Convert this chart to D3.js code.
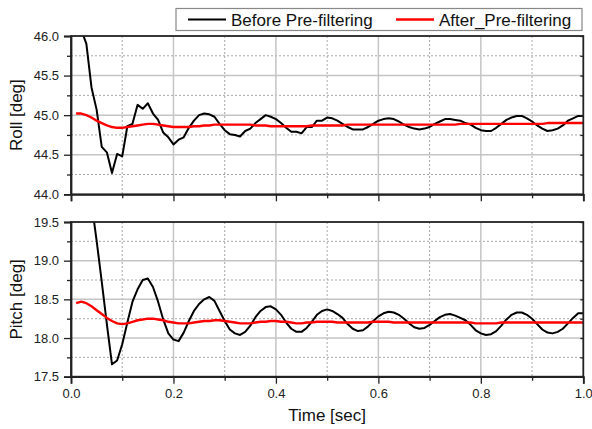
<!DOCTYPE html>
<html><head><meta charset="utf-8">
<script src="https://cdn.jsdelivr.net/npm/d3@7"></script>
<style>body{margin:0;background:#fff}svg{display:block}</style>
</head><body><svg id="c" width="592" height="429"></svg>
<script>
const seriesNames = ["Before Pre-filtering", "After_Pre-filtering"];
const seriesColors = ["#000000", "#ff0000"];
const panelLabels = ["Roll [deg]", "Pitch [deg]"];
const xLabel = "Time [sec]";
const xTicks = [0.0, 0.2, 0.4, 0.6, 0.8, 1.0];
const rollTicks = [44.0, 44.5, 45.0, 45.5, 46.0];
const pitchTicks = [17.5, 18.0, 18.5, 19.0, 19.5];
// sample times 0.01 .. 1.00
const time = d3.range(1, 101).map(i => i / 100);

const rollBefore = [46.40,46.08,45.90,45.35,45.07,44.60,44.53,44.27,44.51,44.48,
44.86,44.89,45.13,45.08,45.15,45.02,44.94,44.78,44.72,44.63,
44.69,44.72,44.84,44.93,45.00,45.02,45.01,44.98,44.89,44.81,
44.76,44.75,44.73,44.80,44.83,44.90,44.95,45.00,44.98,44.95,
44.90,44.84,44.79,44.79,44.77,44.85,44.85,44.93,44.93,44.97,
44.96,44.93,44.89,44.85,44.82,44.82,44.82,44.85,44.89,44.93,
44.95,44.96,44.95,44.92,44.88,44.85,44.83,44.82,44.83,44.85,
44.89,44.92,44.95,44.95,44.94,44.93,44.90,44.88,44.84,44.81,
44.80,44.80,44.84,44.89,44.94,44.97,44.99,44.99,44.96,44.92,
44.87,44.83,44.80,44.81,44.83,44.87,44.93,44.96,44.99,44.99];

const rollAfter = [45.02,45.02,45.00,44.97,44.93,44.90,44.87,44.85,44.84,44.84,
44.85,44.86,44.87,44.88,44.89,44.89,44.88,44.87,44.86,44.85,
44.85,44.85,44.85,44.86,44.86,44.87,44.87,44.88,44.88,44.88,
44.88,44.88,44.88,44.88,44.88,44.87,44.87,44.87,44.86,44.86,
44.86,44.86,44.86,44.86,44.86,44.86,44.87,44.87,44.87,44.87,
44.87,44.87,44.87,44.88,44.88,44.88,44.88,44.88,44.88,44.88,
44.88,44.88,44.88,44.88,44.88,44.88,44.88,44.88,44.88,44.88,
44.88,44.88,44.88,44.88,44.88,44.89,44.89,44.89,44.89,44.89,
44.89,44.89,44.89,44.89,44.89,44.89,44.89,44.89,44.89,44.89,
44.89,44.89,44.90,44.90,44.90,44.90,44.90,44.90,44.90,44.90];

const pitchBefore = [21.80,20.90,20.20,19.75,19.26,18.73,18.18,17.66,17.71,17.92,
18.20,18.47,18.63,18.75,18.77,18.66,18.47,18.24,18.06,17.98,
17.96,18.07,18.22,18.35,18.44,18.50,18.53,18.48,18.35,18.22,
18.11,18.06,18.04,18.08,18.16,18.27,18.35,18.40,18.41,18.37,
18.30,18.20,18.12,18.08,18.08,18.13,18.21,18.30,18.35,18.37,
18.35,18.31,18.26,18.18,18.12,18.09,18.10,18.15,18.22,18.28,
18.32,18.34,18.33,18.30,18.25,18.19,18.14,18.12,18.13,18.17,
18.22,18.27,18.30,18.31,18.29,18.26,18.23,18.17,18.10,18.06,
18.04,18.05,18.09,18.16,18.24,18.30,18.33,18.33,18.30,18.25,
18.18,18.11,18.07,18.06,18.08,18.12,18.19,18.26,18.32,18.32];

const pitchAfter = [18.45,18.47,18.45,18.41,18.36,18.31,18.26,18.22,18.19,18.18,
18.19,18.21,18.23,18.24,18.25,18.25,18.24,18.23,18.21,18.20,
18.19,18.19,18.19,18.20,18.21,18.22,18.22,18.23,18.23,18.22,
18.21,18.20,18.19,18.19,18.19,18.20,18.21,18.21,18.22,18.22,
18.21,18.21,18.20,18.19,18.19,18.20,18.20,18.21,18.21,18.21,
18.21,18.20,18.20,18.20,18.20,18.20,18.20,18.20,18.21,18.21,
18.21,18.21,18.20,18.20,18.20,18.20,18.20,18.20,18.20,18.20,
18.20,18.20,18.20,18.20,18.20,18.20,18.20,18.20,18.19,18.19,
18.19,18.19,18.19,18.20,18.20,18.20,18.20,18.20,18.20,18.20,
18.20,18.20,18.20,18.20,18.20,18.20,18.20,18.20,18.20,18.20];

const svg = d3.select("#c");
const L = 71, R = 583.3;
const FONT = "'Liberation Sans', Arial, sans-serif";
const x = d3.scaleLinear().domain([0, 1]).range([L, R]);

const panels = [
  {top: 36, bottom: 194.3, domain: [44, 46], ticks: rollTicks, label: panelLabels[0], series: [rollBefore, rollAfter], showX: false},
  {top: 222, bottom: 376.7, domain: [17.5, 19.5], ticks: pitchTicks, label: panelLabels[1], series: [pitchBefore, pitchAfter], showX: true}
];

panels.forEach((p, pi) => {
  const y = d3.scaleLinear().domain(p.domain).range([p.bottom, p.top]);
  const g = svg.append("g");
  const yMinor = d3.range(p.domain[0] + 0.25, p.domain[1], 0.5);
  const xMinor = d3.range(0.1, 1.0, 0.2);
  const xMajorInner = xTicks.filter(v => v > 0 && v < 1);
  const yMajorInner = p.ticks.filter(v => v > p.domain[0] && v < p.domain[1]);
  // grid
  g.selectAll(".gxm").data(xMinor).join("line")
    .attr("x1", d => x(d)).attr("x2", d => x(d)).attr("y1", p.top).attr("y2", p.bottom)
    .attr("stroke", "#a8a8a8").attr("stroke-width", 1).attr("stroke-dasharray", "2,2");
  g.selectAll(".gym").data(yMinor).join("line")
    .attr("x1", L).attr("x2", R).attr("y1", d => y(d)).attr("y2", d => y(d))
    .attr("stroke", "#a8a8a8").attr("stroke-width", 1).attr("stroke-dasharray", "2,2");
  g.selectAll(".gxM").data(xMajorInner).join("line")
    .attr("x1", d => x(d)).attr("x2", d => x(d)).attr("y1", p.top).attr("y2", p.bottom)
    .attr("stroke", "#c4c4c4").attr("stroke-width", 1.5);
  g.selectAll(".gyM").data(yMajorInner).join("line")
    .attr("x1", L).attr("x2", R).attr("y1", d => y(d)).attr("y2", d => y(d))
    .attr("stroke", "#c4c4c4").attr("stroke-width", 1.5);

  // clip
  const cid = "clip" + pi;
  svg.append("clipPath").attr("id", cid).append("rect")
    .attr("x", L).attr("y", p.top).attr("width", R - L).attr("height", p.bottom - p.top);
  const line = d3.line().x((d, i) => x(time[i])).y(d => y(d));
  p.series.forEach((s, si) => {
    g.append("path").datum(s).attr("d", line).attr("fill", "none")
      .attr("stroke", seriesColors[si]).attr("stroke-width", si === 0 ? 2 : 2.4)
      .attr("stroke-linejoin", "round").attr("clip-path", `url(#${cid})`);
  });

  // axes
  const yAxis = d3.axisLeft(y).tickValues(p.ticks).tickFormat(d3.format(".1f")).tickSize(7).tickPadding(5);
  const ya = g.append("g").attr("transform", `translate(${L},0)`).call(yAxis);
  const yMinorAxis = d3.axisLeft(y).tickValues(yMinor).tickFormat("").tickSize(4);
  g.append("g").attr("transform", `translate(${L},0)`).call(yMinorAxis).select(".domain").remove();
  const xAxis = d3.axisBottom(x).tickValues(xTicks).tickFormat(p.showX ? d3.format(".1f") : "").tickSize(7).tickPadding(5);
  const xa = g.append("g").attr("transform", `translate(0,${p.bottom})`).call(xAxis);
  const xMinorAxis = d3.axisBottom(x).tickValues(xMinor).tickFormat("").tickSize(4);
  g.append("g").attr("transform", `translate(0,${p.bottom})`).call(xMinorAxis).select(".domain").remove();
  // right inward minor ticks
  const rAxis = d3.axisLeft(y).tickValues(p.ticks.concat(yMinor)).tickFormat("").tickSize(3);
  g.append("g").attr("transform", `translate(${R},0)`).call(rAxis).select(".domain").remove();

  g.selectAll(".tick line").attr("stroke", "#222").attr("stroke-width", 1.3);
  g.selectAll(".tick text").attr("font-family", FONT).attr("font-size", 13).attr("fill", "#222");
  // frame
  g.append("rect").attr("x", L).attr("y", p.top).attr("width", R - L).attr("height", p.bottom - p.top)
    .attr("fill", "none").attr("stroke", "#222").attr("stroke-width", 1.8);
  g.selectAll(".domain").attr("stroke", "#222").attr("stroke-width", 1.8);

  // y label
  svg.append("text").attr("transform", `translate(22,${(p.top + p.bottom) / 2}) rotate(-90)`)
    .attr("text-anchor", "middle").attr("font-family", FONT).attr("font-size", 17)
    .attr("fill", "#111").text(p.label);
});

svg.append("text").attr("x", (L + R) / 2).attr("y", 421).attr("text-anchor", "middle")
  .attr("font-family", FONT).attr("font-size", 17).attr("fill", "#111").text(xLabel);

// legend
const lg = svg.append("g");
lg.append("rect").attr("x", 176).attr("y", 8.5).attr("width", 406).attr("height", 22)
  .attr("fill", "#fff").attr("stroke", "#888").attr("stroke-width", 1.2);
const legendPos = [{lx: 188, tx: 231}, {lx: 396, tx: 439}];
seriesNames.forEach((n, i) => {
  lg.append("line").attr("x1", legendPos[i].lx).attr("x2", legendPos[i].lx + 38)
    .attr("y1", 19.5).attr("y2", 19.5).attr("stroke", seriesColors[i]).attr("stroke-width", i === 0 ? 2 : 2.4);
  lg.append("text").attr("x", legendPos[i].tx).attr("y", 25.5).attr("font-family", FONT)
    .attr("font-size", 17).attr("fill", "#111").text(n);
});
</script></body></html>
